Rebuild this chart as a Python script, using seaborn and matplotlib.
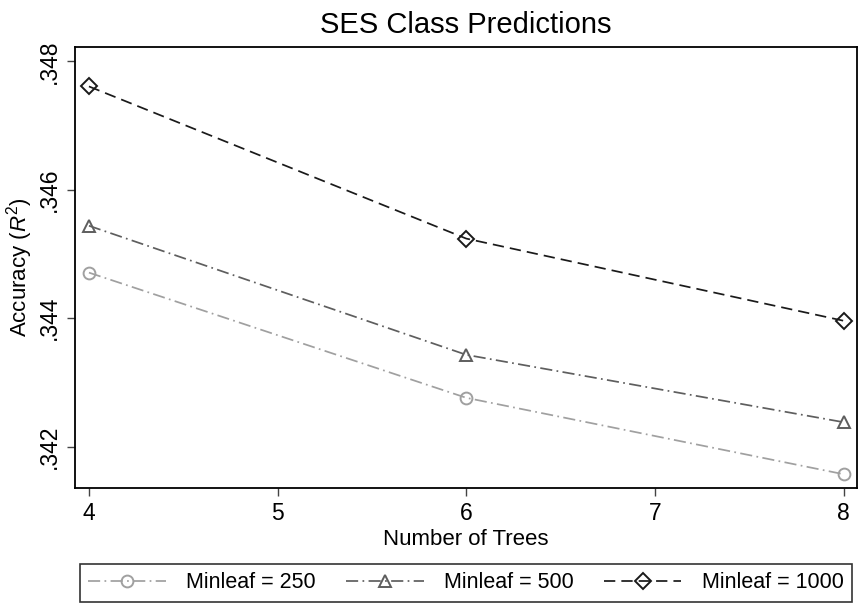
import matplotlib
matplotlib.use("Agg")
import matplotlib.pyplot as plt
import seaborn as sns
import pandas as pd
from matplotlib.lines import Line2D

# Accuracy of SES class predictions by forest size and minimum leaf size
trees = [4, 6, 8]
minleaf_250 = [0.34471, 0.34276, 0.34157]
minleaf_500 = [0.34544, 0.34343, 0.34238]
minleaf_1000 = [0.34761, 0.34524, 0.34396]
series_labels = ["Minleaf = 250", "Minleaf = 500", "Minleaf = 1000"]
x_ticks = [4, 5, 6, 7, 8]
y_ticks = [0.342, 0.344, 0.346, 0.348]
y_tick_labels = [".342", ".344", ".346", ".348"]

sns.set_theme(style="ticks")
plt.rcParams["font.family"] = ["Liberation Sans", "DejaVu Sans"]
plt.rcParams["mathtext.fontset"] = "custom"
plt.rcParams["mathtext.rm"] = "Liberation Sans"
plt.rcParams["mathtext.it"] = "Liberation Sans:italic"
plt.rcParams["text.color"] = "black"
plt.rcParams["axes.labelcolor"] = "black"

styles = [
    dict(color="#a0a0a0", marker="o", ls=(0, (7, 2.5, 1, 2.5))),
    dict(color="#5e5e5e", marker="^", ls=(0, (7, 2.5, 1, 2.5))),
    dict(color="#1a1a1a", marker="D", ls=(0, (6.5, 3.5))),
]
values = [minleaf_250, minleaf_500, minleaf_1000]

fig = plt.figure(figsize=(8.59, 6.03), dpi=100)
ax = fig.add_axes([0.0873, 0.1912, 0.910, 0.7304])

handles = []
for vals, lab, st in zip(values, series_labels, styles):
    df = pd.DataFrame({"trees": trees, "acc": vals})
    ms = 8.0 if st["marker"] == "D" else 8.5
    sns.lineplot(data=df, x="trees", y="acc", ax=ax, color=st["color"],
                 linestyle=st["ls"], linewidth=1.25, marker=st["marker"],
                 markersize=ms, markerfacecolor="none",
                 markeredgecolor=st["color"], markeredgewidth=1.4,
                 legend=False)
    handles.append(Line2D([], [], color=st["color"], linestyle=st["ls"],
                          linewidth=1.25, marker=st["marker"], markersize=ms,
                          markerfacecolor="none", markeredgecolor=st["color"],
                          markeredgewidth=1.4, label=lab))

ax.set_xlim(3.926, 8.069)
ax.set_ylim(0.34136, 0.34822)
ax.set_xticks(x_ticks)
ax.set_xticklabels([str(t) for t in x_ticks])
ax.set_yticks(y_ticks)
ax.set_yticklabels(y_tick_labels, rotation=90, va="center")

for sp in ax.spines.values():
    sp.set_visible(True)
    sp.set_linewidth(1.3)
    sp.set_color("black")

ax.tick_params(axis="both", direction="out", length=6, width=1.0,
               color="#444444", labelsize=16.5, labelcolor="black", pad=4)

ax.set_xlabel("Number of Trees", fontsize=16, labelpad=3)
ax.set_ylabel(r"Accuracy ($\mathit{R}^2$)", fontsize=16, labelpad=2)
ax.set_title("SES Class Predictions", fontsize=21, pad=10)

leg = fig.legend(handles=handles, loc="center", bbox_to_anchor=(0.5425, 0.0335),
                 ncol=3, frameon=True, fancybox=False, fontsize=15.5,
                 handlelength=3.6, handletextpad=0.95, columnspacing=1.4,
                 borderpad=0.4, edgecolor="black")
leg.get_frame().set_linewidth(1.2)

fig.savefig("out.png", dpi=100, facecolor="white")
